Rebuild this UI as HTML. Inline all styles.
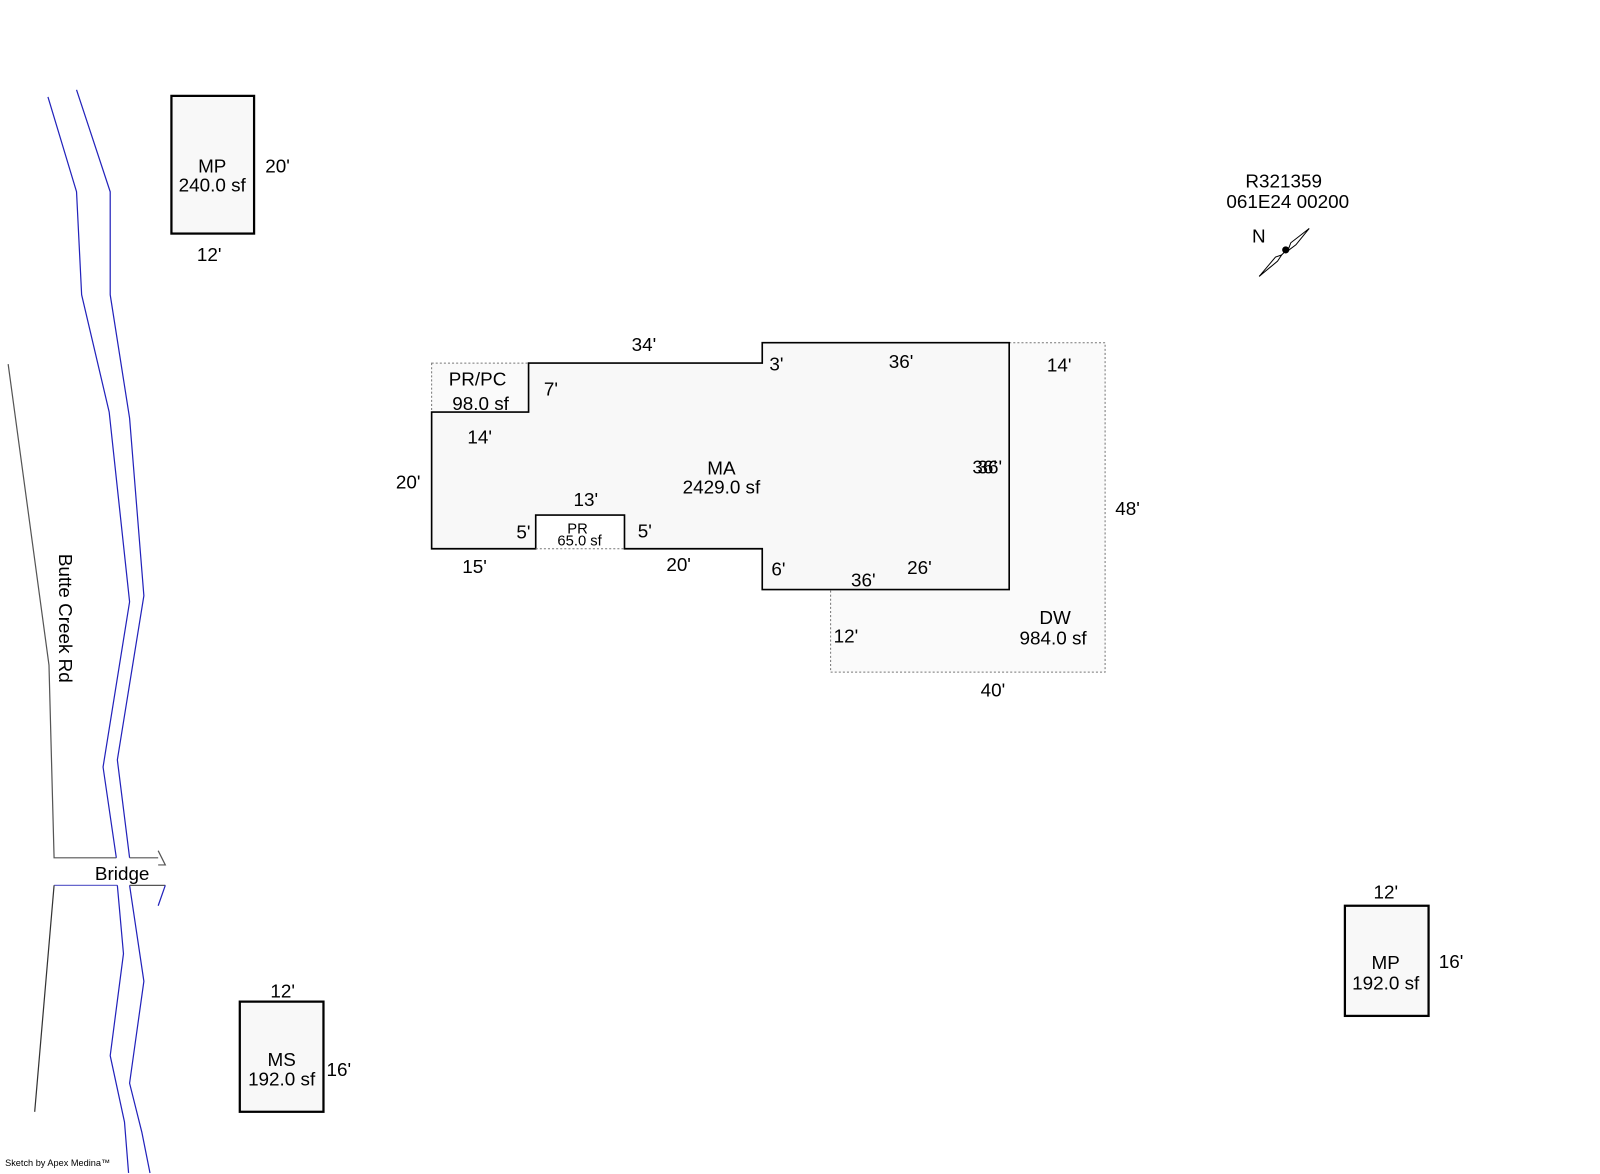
<!DOCTYPE html>
<html><head><meta charset="utf-8"><style>html,body{margin:0;padding:0;background:#fff;width:1600px;height:1174px;overflow:hidden}svg{display:block}text{font-family:"Liberation Sans",Arial,sans-serif;font-size:18.5px;fill:#000}</style></head><body>
<svg width="1600" height="1174" viewBox="0 0 1568 1151" preserveAspectRatio="none" xmlns="http://www.w3.org/2000/svg">
<g fill="none" stroke-width="1.2">
<polyline stroke="#2222bb" points="47,95 75,188 80,289 107,404 127,590 101,752 114,841"/>
<polyline stroke="#2222bb" points="75,88 108,188 108,289 127,410 141,584 115,745 127,841"/>
<polyline stroke="#555" points="8,357 48,652 53,841 114,841"/>
<polyline stroke="#555" points="127,841 155,841"/>
<polyline stroke="#555" points="155,834 162,848 155,848"/>
<polyline stroke="#6666cc" points="53,868 115,868"/>
<polyline stroke="#333" points="53,868 34,1090"/>
<polyline stroke="#2222bb" points="115,868 121,935 108,1035 122,1100 126,1150"/>
<polyline stroke="#2222bb" points="127,868 141,962 127,1062 139,1110 147,1150"/>
<polyline stroke="#555" points="127,868 162,868"/>
<polyline stroke="#2222bb" points="162,868 155,888"/>
</g>
<text transform="translate(58,543) rotate(90)">Butte Creek Rd</text>
<text x="93" y="863">Bridge</text>
<text x="5" y="1143" style="font-size:9px">Sketch by Apex Medina™</text>
<g fill="#f8f8f8" stroke="#000" stroke-width="2.2">
<rect x="168" y="94" width="81" height="135"/>
<rect x="235" y="982" width="82" height="108"/>
<rect x="1318" y="888" width="82" height="108"/>
</g>
<text x="208" y="169" text-anchor="middle">MP</text><text x="208" y="188" text-anchor="middle">240.0 sf</text>
<text x="260" y="169">20'</text><text x="193" y="256">12'</text>
<text x="276" y="1045" text-anchor="middle">MS</text><text x="276" y="1064" text-anchor="middle">192.0 sf</text>
<text x="265" y="978">12'</text><text x="320" y="1055">16'</text>
<text x="1358" y="950" text-anchor="middle">MP</text><text x="1358" y="970" text-anchor="middle">192.0 sf</text>
<text x="1346" y="881">12'</text><text x="1410" y="949">16'</text>
<polyline fill="#fafafa" stroke="#777" stroke-width="1" stroke-dasharray="2,2" points="989,336 1083,336 1083,659 814,659 814,578"/>
<rect x="423" y="356" width="95" height="48" fill="#fafafa" stroke="#777" stroke-width="1" stroke-dasharray="2,2"/>
<polygon fill="#f8f8f8" stroke="#000" stroke-width="1.6" points="423,404 518,404 518,356 747,356 747,336 989,336 989,578 747,578 747,538 612,538 612,505 525,505 525,538 423,538"/>
<line x1="525" y1="538" x2="612" y2="538" stroke="#777" stroke-dasharray="2,2"/>
<text x="468" y="378" text-anchor="middle">PR/PC</text><text x="471" y="402" text-anchor="middle">98.0 sf</text>
<text x="707" y="465" text-anchor="middle">MA</text><text x="707" y="484" text-anchor="middle">2429.0 sf</text>
<text x="566" y="523" text-anchor="middle" style="font-size:14.5px">PR</text><text x="568" y="535" text-anchor="middle" style="font-size:14.5px">65.0 sf</text>
<text x="1034" y="612" text-anchor="middle">DW</text><text x="1032" y="632" text-anchor="middle">984.0 sf</text>
<text x="619" y="344">34'</text><text x="754" y="363">3'</text><text x="871" y="361">36'</text>
<text x="1026" y="364">14'</text><text x="533" y="388">7'</text><text x="458" y="435">14'</text>
<text x="388" y="479">20'</text><text x="953" y="464">36'</text><text x="958" y="464">36'</text>
<text x="1093" y="505">48'</text><text x="562" y="496">13'</text><text x="506" y="528">5'</text>
<text x="625" y="527">5'</text><text x="453" y="562">15'</text><text x="653" y="560">20'</text>
<text x="756" y="564">6'</text><text x="834" y="575">36'</text><text x="889" y="563">26'</text>
<text x="817" y="630">12'</text><text x="961" y="683">40'</text>
<text x="1258" y="184" text-anchor="middle">R321359</text><text x="1262" y="204" text-anchor="middle">061E24 00200</text>
<text x="1227" y="238">N</text>
<g stroke="#000" stroke-width="1" fill="#fff">
<line x1="1234" y1="271" x2="1283" y2="224"/>
<polygon points="1283,224 1265,238 1262,246 1270,240"/>
<polygon points="1234,271 1250,252 1256,250 1252,256"/>
<circle cx="1260" cy="245" r="3" fill="#000"/>
</g>
</svg>
</body></html>
